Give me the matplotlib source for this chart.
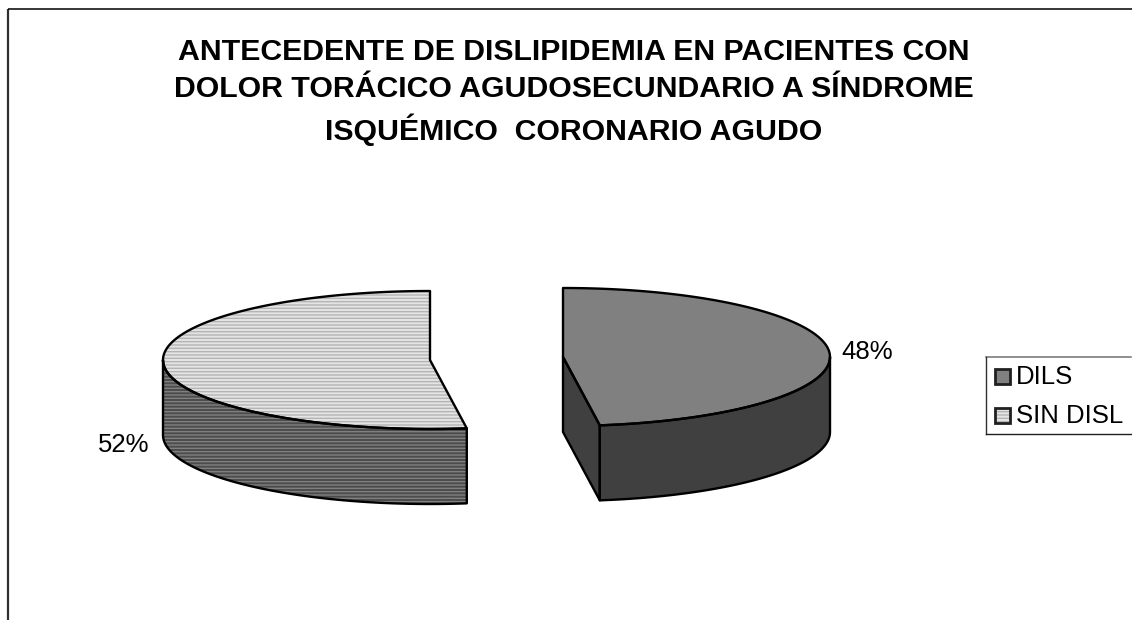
import numpy as np
import matplotlib
matplotlib.use('Agg')
import matplotlib.pyplot as plt
from matplotlib.patches import Polygon, Rectangle

title_lines = ["ANTECEDENTE DE DISLIPIDEMIA EN PACIENTES CON",
               "DOLOR TORÁCICO AGUDOSECUNDARIO A SÍNDROME",
               "ISQUÉMICO  CORONARIO AGUDO"]
categories = ["DILS", "SIN DISL"]
shares = [47.8, 52.2]

plt.rcParams['font.family'] = ['Liberation Sans', 'DejaVu Sans']
plt.rcParams['hatch.linewidth'] = 1.0

fig = plt.figure(figsize=(11.32, 6.2), dpi=100)
ax = fig.add_axes([0, 0, 1, 1])
ax.set_xlim(0, 1132)
ax.set_ylim(620, 0)
ax.axis('off')

RX, RY, DEPTH = 267, 69, 75
EDGE = '#000000'
LW = 1.7


def rim(cx, cy, a0, a1, n=160):
    t = np.radians(np.linspace(a0, a1, n))
    return np.column_stack([cx + RX * np.sin(t), cy - RY * np.cos(t)])


def shape(pts, face, stripe=None):
    ax.add_patch(Polygon(pts, closed=True, facecolor=face, edgecolor='none', zorder=2))
    if stripe is not None:
        ax.add_patch(Polygon(pts, closed=True, facecolor='none', edgecolor=stripe,
                             hatch='-----', linewidth=0, zorder=2.1))
    ax.add_patch(Polygon(pts, closed=True, facecolor='none', edgecolor=EDGE,
                         linewidth=LW, joinstyle='round', zorder=2.2))


angles = np.cumsum([0] + shares) / sum(shares) * 360

# first slice (right)
cx, cy = 563, 357
a0, a1 = angles[0], angles[1]
arc = rim(cx, cy, 90, a1)
shape(np.vstack([arc, arc[::-1] + [0, DEPTH]]), '#404040')
vx = rim(cx, cy, a1, a1, 1)[0]
shape(np.array([[cx, cy], vx, vx + [0, DEPTH], [cx, cy + DEPTH]]), '#404040')
shape(np.vstack([[[cx, cy]], rim(cx, cy, a0, a1)]), '#808080')

# second slice (left)
cx, cy = 430, 360
a0, a1 = angles[1], angles[2]
arc = rim(cx, cy, a0, 270)
shape(np.vstack([arc, arc[::-1] + [0, DEPTH]]), '#4c4c4c', '#808080')
shape(np.vstack([[[cx, cy]], rim(cx, cy, a0, a1)]), '#e4e4e4', '#b4b4b4')

# title
ax.text(574, 92, "\n".join(title_lines), ha='center', va='center', fontsize=21.75,
        fontweight='bold', color='black', linespacing=1.4)

# data labels
ax.text(867, 352, f"{shares[0]:.0f}%", ha='center', va='center', fontsize=18.5)
ax.text(124, 445, f"{shares[1]:.0f}%", ha='center', va='center', fontsize=18.5)

# chart border
ax.plot([8, 8], [620, 9], color='#303030', lw=1.6, solid_capstyle='butt', clip_on=False)
ax.plot([8, 1132], [9, 9], color='black', lw=1.1, solid_capstyle='butt')

# legend
ax.plot([986, 1131], [357, 357], color='#707070', lw=1.1)
ax.plot([986, 986], [357, 434], color='#303030', lw=1.0)
ax.plot([986, 1131], [434, 434], color='#202020', lw=1.0)
swatches = [(369, '#808080', None), (408, '#e4e4e4', '#b4b4b4')]
for name, (y, face, stripe) in zip(categories, swatches):
    ax.add_patch(Rectangle((995, y), 15, 15, facecolor=face, edgecolor='none', zorder=3))
    if stripe:
        ax.add_patch(Rectangle((995, y), 15, 15, facecolor='none', edgecolor=stripe,
                               hatch='-----', linewidth=0, zorder=3.1))
    ax.add_patch(Rectangle((995, y), 15, 15, facecolor='none', edgecolor='#202020',
                           linewidth=2.0, zorder=3.2))
    ax.text(1016, y + 8, name, ha='left', va='center', fontsize=18.5)

fig.savefig('out.png', dpi=100, facecolor='white')
